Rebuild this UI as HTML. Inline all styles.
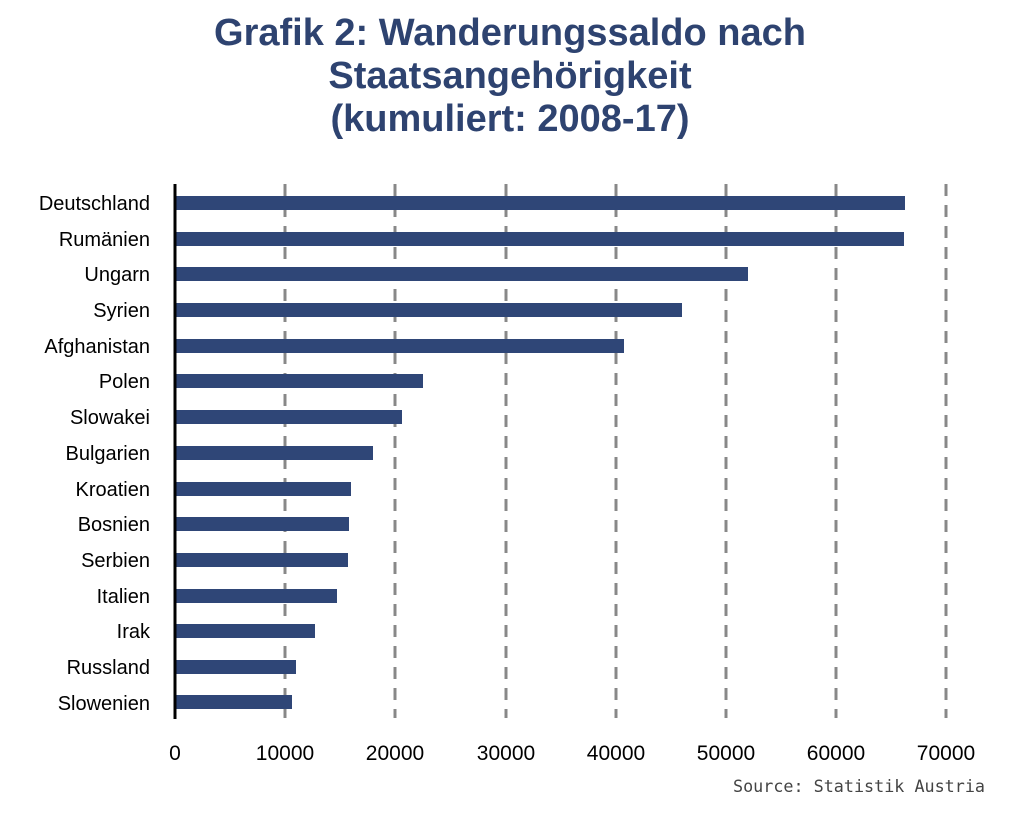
<!DOCTYPE html>
<html><head><meta charset="utf-8"><style>
body{margin:0;width:1024px;height:820px;background:#fff;overflow:hidden}
</style></head><body>
<svg width="1024" height="820" xmlns="http://www.w3.org/2000/svg">
<g font-family="Liberation Sans, Arial, sans-serif" font-weight="bold" font-size="38" fill="#2e4370" text-anchor="middle">
<text x="510" y="45">Grafik 2: Wanderungssaldo nach</text>
<text x="510" y="88">Staatsangehörigkeit</text>
<text x="510" y="131">(kumuliert: 2008-17)</text>
</g>
<g stroke="#888" stroke-width="3" stroke-dasharray="12,9">
<line x1="285" y1="184" x2="285" y2="718"/>
<line x1="395" y1="184" x2="395" y2="718"/>
<line x1="506" y1="184" x2="506" y2="718"/>
<line x1="616" y1="184" x2="616" y2="718"/>
<line x1="726" y1="184" x2="726" y2="718"/>
<line x1="836" y1="184" x2="836" y2="718"/>
<line x1="946" y1="184" x2="946" y2="718"/>
</g>
<g fill="#2f4677">
<rect x="175" y="196" width="730" height="14"/>
<rect x="175" y="232" width="729" height="14"/>
<rect x="175" y="267" width="573" height="14"/>
<rect x="175" y="303" width="507" height="14"/>
<rect x="175" y="339" width="449" height="14"/>
<rect x="175" y="374" width="248" height="14"/>
<rect x="175" y="410" width="227" height="14"/>
<rect x="175" y="446" width="198" height="14"/>
<rect x="175" y="482" width="176" height="14"/>
<rect x="175" y="517" width="174" height="14"/>
<rect x="175" y="553" width="173" height="14"/>
<rect x="175" y="589" width="162" height="14"/>
<rect x="175" y="624" width="140" height="14"/>
<rect x="175" y="660" width="121" height="14"/>
<rect x="175" y="695" width="117" height="14"/>
</g>
<line x1="175" y1="184" x2="175" y2="719" stroke="#000" stroke-width="3"/>
<g font-family="Liberation Sans, Arial, sans-serif" font-size="20" fill="#000" text-anchor="end">
<text x="150" y="210">Deutschland</text>
<text x="150" y="246">Rumänien</text>
<text x="150" y="281">Ungarn</text>
<text x="150" y="317">Syrien</text>
<text x="150" y="353">Afghanistan</text>
<text x="150" y="388">Polen</text>
<text x="150" y="424">Slowakei</text>
<text x="150" y="460">Bulgarien</text>
<text x="150" y="496">Kroatien</text>
<text x="150" y="531">Bosnien</text>
<text x="150" y="567">Serbien</text>
<text x="150" y="603">Italien</text>
<text x="150" y="638">Irak</text>
<text x="150" y="674">Russland</text>
<text x="150" y="710">Slowenien</text>
</g>
<g font-family="Liberation Sans, Arial, sans-serif" font-size="21" fill="#000" text-anchor="middle">
<text x="175" y="760">0</text>
<text x="285" y="760">10000</text>
<text x="395" y="760">20000</text>
<text x="506" y="760">30000</text>
<text x="616" y="760">40000</text>
<text x="726" y="760">50000</text>
<text x="836" y="760">60000</text>
<text x="946" y="760">70000</text>
</g>
<text x="985" y="792" text-anchor="end" font-family="DejaVu Sans Mono, monospace" font-size="17" fill="#444" textLength="252" lengthAdjust="spacingAndGlyphs">Source: Statistik Austria</text>
</svg>
</body></html>
